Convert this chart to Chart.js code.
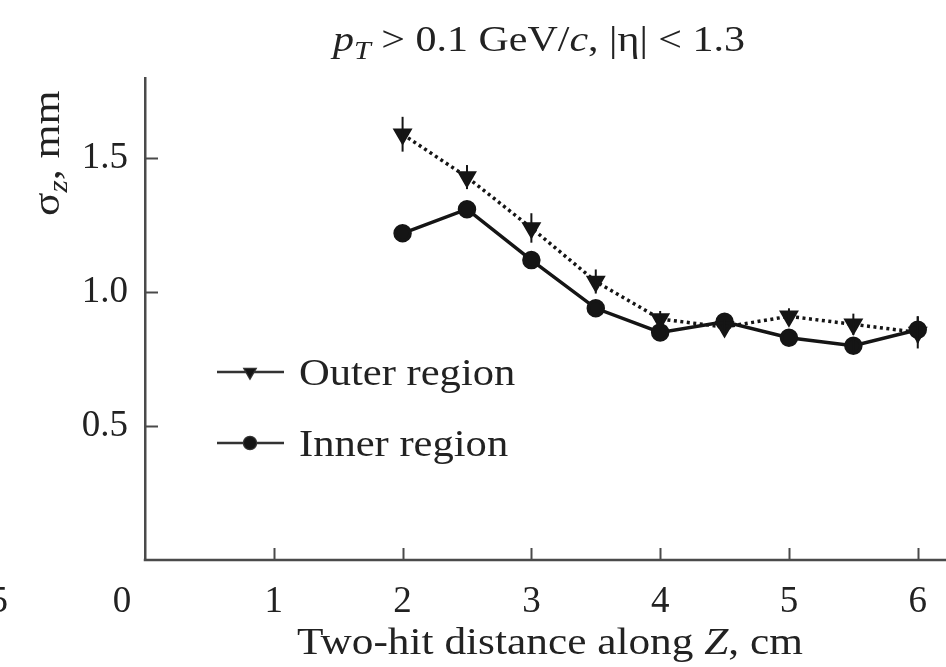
<!DOCTYPE html>
<html>
<head>
<meta charset="utf-8">
<script src="https://cdn.jsdelivr.net/npm/chart.js@4.4.0/dist/chart.umd.min.js"></script>
<style>
  html, body { margin: 0; padding: 0; background: #fff; }
  #wrap { width: 946px; height: 667px; }
</style>
</head>
<body>
<div id="wrap"><canvas id="sigmaChart" width="946" height="667"></canvas></div>
<script>
// Two-hit distance along Z (cm) and sigma_z (mm) for both regions
const distances = [2, 2.5, 3, 3.5, 4, 4.5, 5, 5.5, 6];
const outerSigma = [1.59, 1.43, 1.24, 1.04, 0.90, 0.87, 0.91, 0.88, 0.85];
const outerError = [0.065, 0.045, 0.055, 0.045, 0.03, 0.03, 0.03, 0.04, 0.06];
const innerSigma = [1.22, 1.31, 1.12, 0.94, 0.85, 0.89, 0.83, 0.80, 0.86];
const innerError = [0, 0, 0, 0, 0, 0, 0, 0.03, 0.05];
const xTicks = [1, 2, 3, 4, 5, 6];
const yTicks = [0.5, 1.0, 1.5];

const serif = '"Liberation Serif", "Times New Roman", serif';
const ink = '#151515';
const axisColor = '#4a4a4a';

// draw a line of text made of pieces (italic / subscript), stretched by sx
function drawRich(ctx, segs, x, y, size, align, sx) {
    const fontFor = s => (s.i ? 'italic ' : '') + (s.sub ? size * 0.72 : size) + 'px ' + serif;
    let total = 0;
    segs.forEach(s => { ctx.font = fontFor(s); total += ctx.measureText(s.t).width; });
    ctx.save();
    ctx.translate(x, y);
    ctx.scale(sx, 1);
    ctx.textAlign = 'left';
    let cx = align === 'center' ? -total / 2 : 0;
    segs.forEach(s => {
        ctx.font = fontFor(s);
        ctx.fillText(s.t, cx, s.sub ? size * 0.22 : 0);
        cx += ctx.measureText(s.t).width;
    });
    ctx.restore();
}

// vertical error bars, placed with the chart's own scales
const errorBars = {
    id: 'errorBars',
    afterDatasetsDraw(chart) {
        const ctx = chart.ctx;
        const xs = chart.scales.x, ys = chart.scales.y;
        ctx.save();
        ctx.strokeStyle = ink;
        ctx.lineWidth = 2;
        chart.data.datasets.forEach(ds => {
            ds.data.forEach((p, i) => {
                const e = ds.errors[i];
                if (!e) return;
                const px = xs.getPixelForValue(p.x);
                ctx.beginPath();
                ctx.moveTo(px, ys.getPixelForValue(p.y - e));
                ctx.lineTo(px, ys.getPixelForValue(p.y + e));
                ctx.stroke();
            });
        });
        ctx.restore();
    }
};

// tick marks pointing into the plot, x labels, titles and legend
const decorations = {
    id: 'decorations',
    afterDraw(chart) {
        const ctx = chart.ctx;
        const xs = chart.scales.x, ys = chart.scales.y;
        const area = chart.chartArea;
        ctx.save();
        // x axis line, running on to the edge of the picture
        ctx.strokeStyle = axisColor;
        ctx.lineWidth = 2.5;
        ctx.beginPath();
        ctx.moveTo(area.left - 1.25, area.bottom);
        ctx.lineTo(chart.width, area.bottom);
        ctx.stroke();

        ctx.lineWidth = 2;
        xTicks.forEach(v => {
            const px = Math.round(xs.getPixelForValue(v)) + 0.5;
            ctx.beginPath();
            ctx.moveTo(px, area.bottom);
            ctx.lineTo(px, area.bottom - 12);
            ctx.stroke();
        });
        yTicks.forEach(v => {
            const py = Math.round(ys.getPixelForValue(v)) + 0.5;
            ctx.beginPath();
            ctx.moveTo(area.left, py);
            ctx.lineTo(area.left + 13, py);
            ctx.stroke();
        });

        ctx.fillStyle = '#222';
        ctx.textBaseline = 'alphabetic';
        ctx.font = '37px ' + serif;
        ctx.textAlign = 'center';
        xTicks.forEach(v => {
            ctx.fillText(String(v), xs.getPixelForValue(v), 612);
        });

        // origin label and the clipped digit of the neighbouring panel
        ctx.fillText('0', xs.getPixelForValue(0) - 23, 612);
        ctx.textAlign = 'right';
        ctx.fillText('5', 8, 612);

        // title
        drawRich(ctx, [
            { t: 'p', i: true }, { t: 'T', i: true, sub: true },
            { t: ' > 0.1 GeV/' }, { t: 'c', i: true }, { t: ', |η| < 1.3' }
        ], 539, 51, 35, 'center', 1.2);

        // x axis title
        drawRich(ctx, [
            { t: 'Two-hit distance along ' }, { t: 'Z', i: true }, { t: ', cm' }
        ], 550, 654, 38, 'center', 1.14);

        // y axis title, rotated
        ctx.save();
        ctx.translate(59, 216);
        ctx.rotate(-Math.PI / 2);
        drawRich(ctx, [{ t: 'σ' }, { t: 'z', i: true, sub: true }, { t: ', mm' }], 0, 0, 37, 'left', 1.18);
        ctx.restore();

        // legend
        const rows = [
            { ds: chart.data.datasets[0], y: 372 },
            { ds: chart.data.datasets[1], y: 443 }
        ];
        rows.forEach(r => {
            ctx.strokeStyle = '#333';
            ctx.lineWidth = 2.5;
            ctx.beginPath();
            ctx.moveTo(217, r.y);
            ctx.lineTo(284, r.y);
            ctx.stroke();
            Chart.helpers.drawPoint(ctx, {
                pointStyle: r.ds.pointStyle, rotation: r.ds.rotation || 0,
                radius: 6, borderWidth: 1
            }, 250, r.y);
            ctx.fillStyle = ink;
            ctx.fill();
            ctx.fillStyle = '#222';
            drawRich(ctx, [{ t: r.ds.label }], 299, r.y + 13, 38, 'left', 1.12);
        });
        ctx.restore();
    }
};

const ctx = document.getElementById('sigmaChart').getContext('2d');
new Chart(ctx, {
    type: 'line',
    data: {
        datasets: [
            {
                label: 'Outer region',
                data: distances.map((x, i) => ({ x: x, y: outerSigma[i] })),
                errors: outerError,
                borderColor: ink,
                borderWidth: 3.5,
                borderDash: [3, 3.5],
                pointStyle: 'triangle',
                rotation: 180,
                pointRadius: 8,
                pointBackgroundColor: ink,
                pointBorderColor: ink,
                tension: 0
            },
            {
                label: 'Inner region',
                data: distances.map((x, i) => ({ x: x, y: innerSigma[i] })),
                errors: innerError,
                borderColor: ink,
                borderWidth: 3.5,
                pointStyle: 'circle',
                pointRadius: 7.5,
                pointBackgroundColor: ink,
                pointBorderColor: ink,
                tension: 0
            }
        ]
    },
    options: {
        responsive: false,
        animation: false,
        layout: { padding: { top: 78, right: 0, left: 0, bottom: 0 } },
        plugins: {
            legend: { display: false },
            title: { display: false },
            tooltip: { enabled: false }
        },
        scales: {
            x: {
                type: 'linear',
                min: 0,
                max: 6.13,
                afterBuildTicks: s => { s.ticks = xTicks.map(v => ({ value: v })); },
                afterFit: s => { s.height = 107; },
                grid: { display: false, drawTicks: false },
                border: { display: false },
                ticks: { display: false }
            },
            y: {
                min: 0,
                max: 1.8,
                afterBuildTicks: s => { s.ticks = yTicks.map(v => ({ value: v })); },
                afterFit: s => { s.width = 145; },
                grid: { display: false, drawTicks: false },
                border: { display: true, color: axisColor, width: 2.5 },
                ticks: {
                    color: '#222',
                    font: { family: serif, size: 37 },
                    padding: 17,
                    callback: v => v.toFixed(1)
                }
            }
        }
    },
    plugins: [errorBars, decorations]
});
</script>
</body>
</html>
